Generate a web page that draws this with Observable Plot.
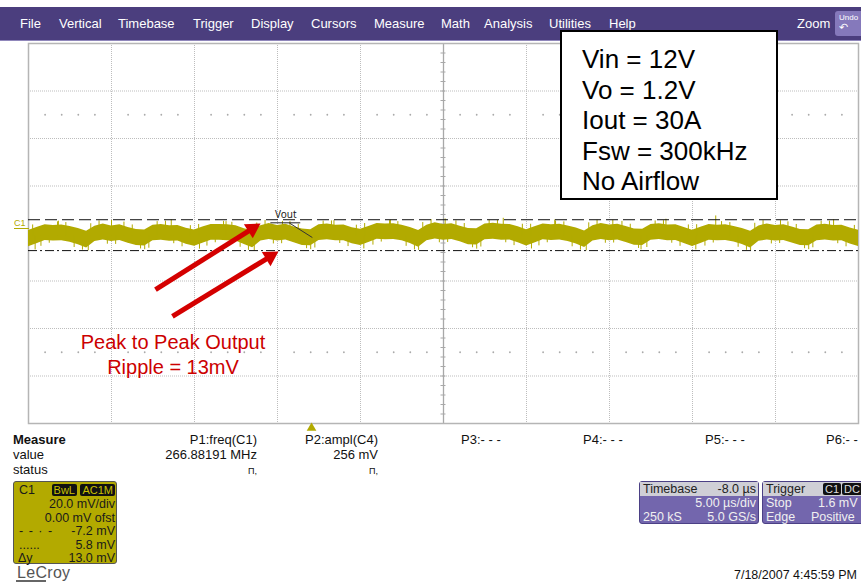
<!DOCTYPE html>
<html><head><meta charset="utf-8">
<script src="https://cdn.jsdelivr.net/npm/d3@7"></script>
<script src="https://cdn.jsdelivr.net/npm/@observablehq/plot@0.6"></script>
<style>
body{margin:0;background:#fff;font-family:"Liberation Sans",Arial,sans-serif;}
#wrap{position:relative;width:861px;height:582px;overflow:hidden;background:#fff;}
#wrap svg{position:absolute;left:0;top:0;}
.abs{position:absolute;white-space:nowrap;}
.menu span{position:absolute;font-size:13px;line-height:15px;color:#fff;}
.mrow{font-size:13px;line-height:15px;color:#111;}
.c1box{position:absolute;left:13px;top:481px;width:104px;height:83px;box-sizing:border-box;background:#b3aa00;border:1px solid #555;border-radius:3px;font-size:12.5px;color:#1a1a1a;}
.c1box div{position:absolute;line-height:13px;white-space:nowrap;}
.badge{background:#111;color:#c8c000;padding:0 2px;border-radius:2px;font-size:11px;}
.pbox{position:absolute;top:481px;height:43px;box-sizing:border-box;background:#7366ad;border:1px solid #4b4085;border-radius:3px;font-size:12.5px;color:#f0f0f0;}
.pbox div{position:absolute;line-height:14px;white-space:nowrap;}
.phead{left:0;right:0;top:0;height:14px;background:#cfcfd6;color:#222;}
</style></head><body><div id="wrap"></div>
<script>
// ---- trace envelope (mV), sampled every 0.5 µs from 0 to 50 µs ----
const traceHi = [1.3,2.5,3.7,3.4,3.6,2.9,2.1,0.9,3.1,4.0,3.2,3.7,2.5,1.7,1.5,3.5,3.8,3.3,3.4,2.2,
  1.5,2.7,3.8,3.8,3.7,3.3,2.0,1.2,3.3,4.2,3.4,3.9,2.7,1.9,1.6,3.7,4.0,3.5,3.6,2.4,
  1.8,3.0,4.2,4.0,4.1,3.5,2.5,1.3,3.5,4.5,3.8,4.1,3.1,2.1,2.0,4.0,4.3,3.9,3.8,2.8,
  1.6,2.8,4.0,3.7,3.9,3.2,2.3,1.1,3.3,4.2,3.6,3.9,2.9,1.9,1.8,3.8,4.1,3.6,3.7,2.5,
  1.4,2.6,3.8,3.5,3.7,3.0,2.1,0.9,3.2,4.0,3.4,3.7,2.7,1.7,1.6,3.6,3.9,3.4,3.5,2.3,1.4];
const traceLo = [-5.6,-4.3,-2.9,-3.2,-3.0,-3.7,-4.7,-6.1,-3.4,-2.7,-3.4,-2.9,-4.1,-5.1,-5.3,-3.1,-2.8,-3.3,-3.2,-4.5,
  -5.4,-4.1,-2.8,-2.8,-3.0,-3.2,-4.6,-6.0,-3.2,-2.5,-3.2,-2.7,-3.9,-5.0,-5.2,-2.9,-2.6,-3.1,-3.0,-4.3,
  -5.1,-3.8,-2.4,-2.6,-2.5,-3.1,-4.2,-5.8,-3.0,-2.3,-2.8,-2.5,-3.5,-4.7,-4.8,-2.6,-2.4,-2.8,-2.7,-3.9,
  -5.3,-4.0,-2.6,-2.9,-2.7,-3.4,-4.4,-5.9,-3.2,-2.5,-3.0,-2.7,-3.8,-4.9,-5.0,-2.8,-2.5,-3.0,-2.9,-4.2,
  -5.5,-4.2,-2.8,-3.1,-2.9,-3.6,-4.6,-6.1,-3.3,-2.7,-3.2,-2.9,-4.0,-5.1,-5.2,-3.0,-2.7,-3.2,-3.1,-4.4,-5.5];
const sampleStep = 0.5;
// large noise spikes (µs, mV)
const spikeT = [0.4,3.6,7.0,10.3,13.6,17.0,20.2,23.5,27.0,30.3,33.6,36.9,40.2,43.5,47.0,
  1.8,5.0,8.6,11.9,15.3,18.4,21.8,25.1,28.6,31.7,35.2,38.4,41.4,45.3,48.5];
const spikeV = [-6.9,-7.3,-6.8,-6.6,-7.4,-6.8,-6.5,-7.1,-6.6,-6.5,-7.3,-6.9,-6.9,-7.3,-6.8,
  5.2,5.5,5.8,5.0,5.1,5.4,5.6,6.1,6.4,5.7,5.6,6.0,7.4,5.4,5.8];
// fine noise edge (mV) at 0.25 µs + k·0.5 µs
const fuzzV = [3.6,-5.4,-4.1,4.9,4.6,-5.9,-7.0,4.1,5.3,-4.5,-4.6,4.8,3.6,-6.5,-6.2,5.0,5.2,-4.3,-5.6,3.3,
  3.8,-5.3,-3.9,5.1,4.7,-5.8,-7.1,4.4,5.5,-4.4,-4.3,5.0,3.9,-6.4,-6.1,5.2,5.3,-4.2,-5.5,3.5,
  4.2,-4.9,-3.6,5.4,5.0,-5.4,-6.9,4.6,5.9,-3.9,-3.8,5.3,4.2,-6.0,-5.7,5.6,5.5,-3.9,-5.1,3.9,
  3.9,-5.2,-3.9,5.2,4.9,-5.6,-7.0,4.5,5.6,-4.1,-4.0,5.1,3.9,-6.3,-5.9,5.3,5.4,-4.1,-5.4,3.6,
  3.7,-5.3,-4.0,5.0,4.6,-5.8,-7.1,4.3,5.4,-4.4,-4.2,4.9,3.8,-6.4,-6.0,5.1,5.2,-4.3,-5.6,3.4];
// cursors (mV)
const cursorUpper = 5.8, cursorLower = -7.2;
const triggerTime = 17.05;
// annotation arrows (µs, mV)
const arrowX1 = [7.65, 8.67], arrowY1 = [-23.6, -34.9], arrowX2 = [13.98, 15.06], arrowY2 = [4.2, -7.6];
// grid
const xDomain = [0, 50], yDomain = [-80, 80];
const xDivs = [0,5,10,15,20,30,35,40,45,50], yDivs = [-80,-60,-40,-20,20,40,60,80];

const menuItems = [["File",20],["Vertical",59],["Timebase",118],["Trigger",193],["Display",251],["Cursors",311],["Measure",374],["Math",441],["Analysis",484],["Utilities",549],["Help",609],["Zoom",797]];
const infoLines = ["Vin = 12V","Vo = 1.2V","Iout = 30A","Fsw = 300kHz","No Airflow"];

const W = 861, H = 582, mL = 28, mR = 3, mT = 43, mB = 159;
const kx = (W - mL - mR) / (xDomain[1] - xDomain[0]);
const ky = (H - mT - mB) / (yDomain[1] - yDomain[0]);

const trace = traceHi.map((h, i) => ({t: i * sampleStep, hi: h, lo: traceLo[i]}));
const spikes = spikeT.map((t, i) => ({t, v: spikeV[i]}))
  .concat(fuzzV.map((v, i) => ({t: 0.25 + i * sampleStep, v})));
const headR = 6.2, headBack = 1.555 * headR;
const arrows = arrowX1.map((x, i) => {
  const dxp = (arrowX2[i] - x) * kx, dyp = (arrowY2[i] - arrowY1[i]) * ky;
  const len = Math.hypot(dxp, dyp);
  const cx = arrowX2[i] - (dxp / len) * headBack / kx;
  const cy = arrowY2[i] - (dyp / len) * headBack / ky;
  return {x1: x, y1: arrowY1[i], cx, cy, rot: Math.atan2(dxp, dyp) * 180 / Math.PI};
});
const olive = "#b2aa00";

const chart = Plot.plot({
  width: W, height: H,
  marginLeft: mL, marginRight: mR, marginTop: mT, marginBottom: mB,
  x: {domain: xDomain, axis: null},
  y: {domain: yDomain, axis: null},
  style: {background: "transparent", overflow: "visible"},
  marks: [
    Plot.ruleX(xDivs, {stroke: "#bdbdbd", strokeDasharray: "1,1"}),
    Plot.ruleY(yDivs, {stroke: "#bdbdbd", strokeDasharray: "1,1"}),
    Plot.dot(d3.range(1, 50, 1).filter(d => d % 5 !== 0).flatMap(t => [{t, v: 50}, {t, v: -50}]),
      {x: "t", y: "v", r: 0.9, fill: "#aaa", stroke: null}),
    Plot.ruleX([25], {stroke: "#a8a8a8", strokeWidth: 1.3}),
    Plot.ruleY([0], {stroke: "#a8a8a8", strokeWidth: 1.3}),
    Plot.ruleX(d3.range(0, 51, 1), {y1: -1.1, y2: 1.1, stroke: "#a8a8a8"}),
    Plot.ruleY(d3.range(-80, 81, 4), {x1: 24.85, x2: 25.15, stroke: "#a8a8a8"}),
    Plot.frame({stroke: "#b5b5b5", strokeWidth: 1.5}),
    Plot.areaY(trace, {x: "t", y1: "lo", y2: "hi", fill: olive, curve: "linear"}),
    Plot.ruleX(spikes, {x: "t", y1: -1, y2: "v", stroke: olive, strokeWidth: 1}),
    Plot.ruleY([cursorUpper], {stroke: "#111", strokeDasharray: "12,5"}),
    Plot.ruleY([cursorLower], {stroke: "#111", strokeDasharray: "9,3,2,3"}),
    Plot.text(["Vout"], {x: 15.5, y: 7.9, fontSize: 10, fill: "#222"}),
    Plot.ruleY([4.5], {x1: 14.6, x2: 16.4, stroke: "#222"}),
    Plot.link([0], {x1: 15.7, y1: 4.5, x2: 17.1, y2: -1.7, stroke: "#333"}),
    Plot.dot([triggerTime], {x: d => d, y: yDomain[0], dy: 4.5, symbol: "triangle", r: 3.6, fill: olive, stroke: null}),
    Plot.link(arrows, {x1: "x1", y1: "y1", x2: "cx", y2: "cy", stroke: "#d40000", strokeWidth: 5}),
    Plot.dot(arrows, {x: "cx", y: "cy", rotate: "rot", symbol: "triangle", r: headR, fill: "#d40000", stroke: null})
  ]
});

const wrap = document.getElementById("wrap");
wrap.appendChild(chart);

function add(html, style, cls) {
  const d = document.createElement("div");
  d.className = cls ? cls : "abs";
  d.setAttribute("style", style);
  d.innerHTML = html;
  wrap.appendChild(d);
  return d;
}
// menu bar
const menu = add("", "left:0;top:7px;width:861px;height:33px;background:#4b3e7e;border-bottom:1px solid #9087bb;", "abs menu");
menuItems.forEach(([t, x]) => {
  const s = document.createElement("span");
  s.textContent = t; s.style.left = x + "px"; s.style.top = "9px";
  menu.appendChild(s);
});
add("<div style='font-size:8px;color:#fff;line-height:9px;'>Undo</div><div style='font-size:11px;color:#fff;line-height:11px;'>&#8630;</div>",
  "left:835px;top:11px;width:30px;height:25px;background:#8579bb;border-radius:3px;box-sizing:border-box;padding:2px 0 0 4px;");
// info box
add(infoLines.map(l => `<div style="height:30.5px;">${l}</div>`).join(""),
  "left:560px;top:30px;width:218px;height:170px;box-sizing:border-box;border:2px solid #000;background:#fff;font-size:26px;line-height:30.5px;color:#000;padding:12px 0 0 20px;");
// C1 label
add("C1", "left:14px;top:219px;font-size:9px;color:" + olive + ";border-bottom:1px solid " + olive + ";line-height:9px;padding-right:3px;");
// red note
add("Peak to Peak Output<br>Ripple = 13mV", "left:73px;top:330px;width:200px;text-align:center;font-size:20px;line-height:25px;color:#cc0000;");
// measure table
add("<b>Measure</b><br>value<br>status", "left:13px;top:432px;", "abs mrow");
add("P1:freq(C1)<br>266.88191 MHz<br><span style='font-size:9px;'>&#928;,</span>", "right:604px;top:432px;text-align:right;", "abs mrow");
add("P2:ampl(C4)<br>256 mV<br><span style='font-size:9px;'>&#928;,</span>", "right:483px;top:432px;text-align:right;", "abs mrow");
[["P3:- - -",461],["P4:- - -",583],["P5:- - -",705],["P6:- -",826]].forEach(([t,x]) => add(t, `left:${x}px;top:432px;`, "abs mrow"));
// C1 box
add(`<div style="left:5px;top:2px;">C1</div>
<div style="right:1px;top:2px;"><span class="badge">BwL</span> <span class="badge">AC1M</span></div>
<div style="right:1px;top:16px;">20.0 mV/div</div>
<div style="right:1px;top:29.5px;">0.00 mV ofst</div>
<div style="left:5px;top:43px;letter-spacing:1px;">- - · -</div><div style="right:1px;top:43px;">-7.2 mV</div>
<div style="left:5px;top:56.5px;">......</div><div style="right:1px;top:56.5px;">5.8 mV</div>
<div style="left:4px;top:70px;">&#916;y</div><div style="right:1px;top:70px;">13.0 mV</div>`, "", "c1box");
// LeCroy
add("LeCroy", "left:17px;top:564px;font-size:16px;color:#555;letter-spacing:0.3px;");
add("", "left:16px;top:580px;width:30px;height:2px;background:#666;");
// timebase box
add(`<div class="phead"><span style="position:absolute;left:3px;">Timebase</span><span style="position:absolute;right:2px;">-8.0 µs</span></div>
<div style="right:2px;top:14px;">5.00 µs/div</div>
<div style="left:3px;top:28px;">250 kS</div><div style="right:2px;top:28px;">5.0 GS/s</div>`, "left:639px;width:120px;", "pbox");
// trigger box (runs past the right edge of the screen, as in the capture)
add(`<div class="phead"><span style="position:absolute;left:3px;">Trigger</span><span style="position:absolute;left:60px;"><span class="badge" style="color:#ddd">C1</span><span class="badge" style="color:#ddd;margin-left:1px;">DC</span></span></div>
<div style="left:3px;top:14px;">Stop</div><div style="left:55px;top:14px;">1.6 mV</div>
<div style="left:3px;top:28px;">Edge</div><div style="left:48px;top:28px;">Positive</div>`, "left:762px;width:110px;", "pbox");
// date
add("7/18/2007 4:45:59 PM", "right:4px;top:568px;font-size:12.5px;color:#111;");
</script></body></html>
